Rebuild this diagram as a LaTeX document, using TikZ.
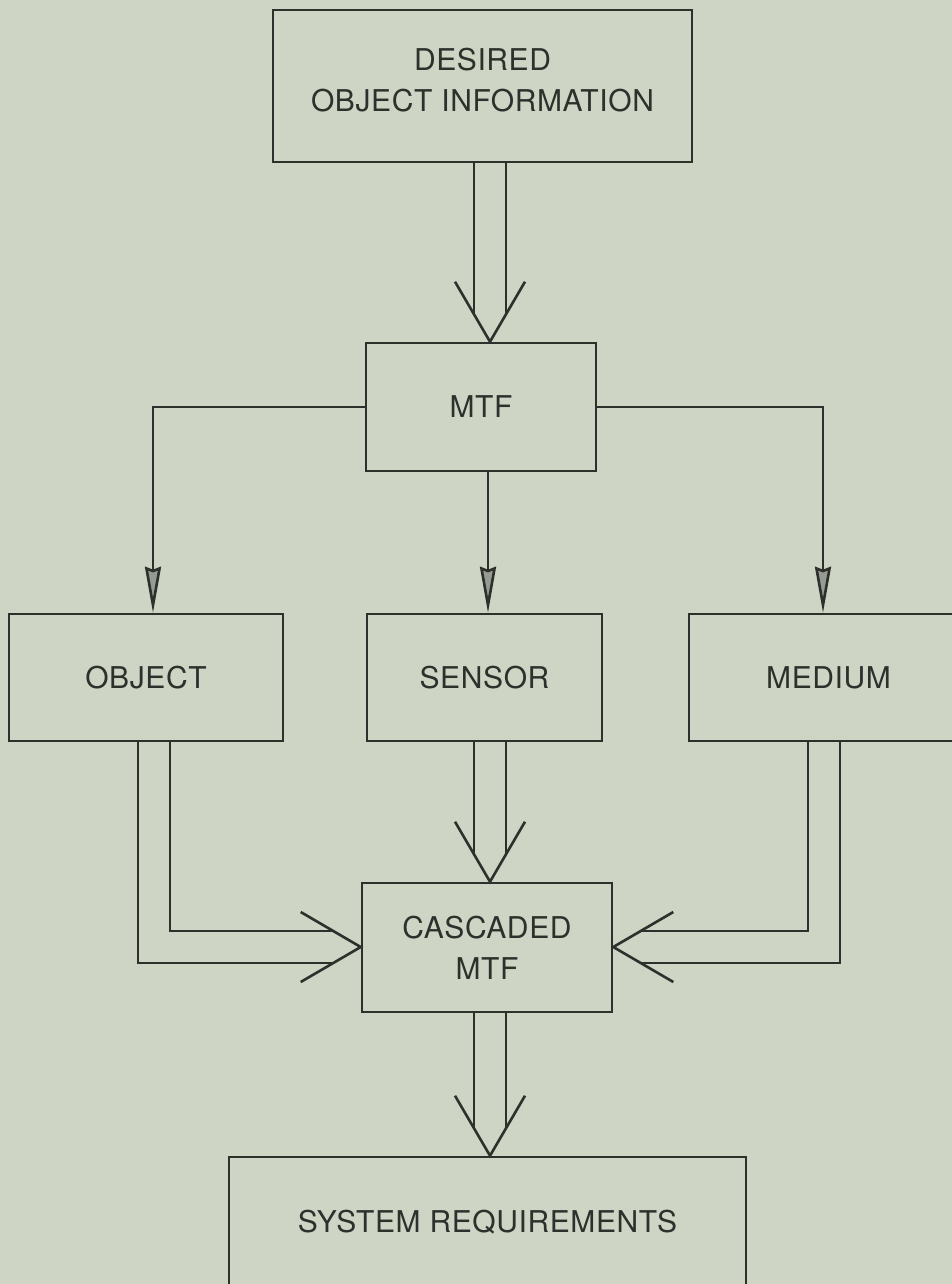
\documentclass[tikz,border=0pt]{standalone}
\usepackage{fontspec}
\setmainfont{TeX Gyre Heros}[LetterSpace=2]
\usetikzlibrary{arrows.meta,calc}
\definecolor{bg}{RGB}{206,213,197}
\definecolor{ink}{RGB}{45,48,43}
\definecolor{tipfill}{RGB}{150,155,148}
\newcommand\dblarrowdown[3]{%
  \draw[ln] ($(#1.south -| #3)+(-16,0)$) -- ($(#2.north -| #3)+(-16,-27)$);
  \draw[ln] ($(#1.south -| #3)+(16,0)$) -- ($(#2.north -| #3)+(16,-27)$);
  \draw[ln] ($(#2.north -| #3)+(-35,-60)$) -- (#2.north -| #3) -- ($(#2.north -| #3)+(35,-60)$);
}
\begin{document}
\begin{tikzpicture}[x=1pt,y=-1pt,
  box/.style={draw=ink,line width=2.6pt,inner sep=0pt,align=center,text=ink,font=\fontsize{30}{41}\selectfont},
  ln/.style={draw=ink,line width=2.6pt},
  sarrow/.style={ln,-{Stealth[length=46pt,width=16pt,inset=3pt,fill=tipfill]}}]
\fill[bg] (0,0) rectangle (952,1284);
\useasboundingbox (0,0) rectangle (952,1284);

\node[box,minimum width=419pt,minimum height=152pt,text depth=12pt] (top) at (482.5,86) {DESIRED\\OBJECT INFORMATION};
\node[box,minimum width=230pt,minimum height=128pt] (mtf) at (481,407) {MTF};
\node[box,minimum width=274pt,minimum height=127pt] (obj) at (146,677.5) {OBJECT};
\node[box,minimum width=235pt,minimum height=127pt] (sen) at (484.5,677.5) {SENSOR};
\node[box,minimum width=279pt,minimum height=127pt] (med) at (828.5,677.5) {MEDIUM};
\node[box,minimum width=250pt,minimum height=129pt] (cas) at (487,947.5) {CASCADED\\MTF};
\node[box,minimum width=517pt,minimum height=130pt] (sys) at (487.5,1222) {SYSTEM REQUIREMENTS};

\coordinate (axA) at (490,0);
\coordinate (axB) at (488,0);
\coordinate (axL) at (153,0);
\coordinate (axR) at (823,0);
\coordinate (axO) at (154,0);
\coordinate (axM) at (824,0);
\coordinate (hy) at (0,947);

\draw[sarrow] (mtf.west) -| (obj.north -| axL);
\draw[sarrow] (mtf.east) -| (med.north -| axR);
\draw[sarrow] (mtf.south -| axB) -- (sen.north -| axB);

\dblarrowdown{top}{mtf}{axA}
\dblarrowdown{sen}{cas}{axA}
\dblarrowdown{cas}{sys}{axA}

\draw[ln] ($(obj.south -| axO)+(16,0)$) |- ($(cas.west |- hy)+(-27,-16)$);
\draw[ln] ($(obj.south -| axO)+(-16,0)$) |- ($(cas.west |- hy)+(-27,16)$);
\draw[ln] ($(cas.west |- hy)+(-60,-35)$) -- (cas.west |- hy) -- ($(cas.west |- hy)+(-60,35)$);

\draw[ln] ($(med.south -| axM)+(-16,0)$) |- ($(cas.east |- hy)+(27,-16)$);
\draw[ln] ($(med.south -| axM)+(16,0)$) |- ($(cas.east |- hy)+(27,16)$);
\draw[ln] ($(cas.east |- hy)+(60,-35)$) -- (cas.east |- hy) -- ($(cas.east |- hy)+(60,35)$);
\end{tikzpicture}
\end{document}
